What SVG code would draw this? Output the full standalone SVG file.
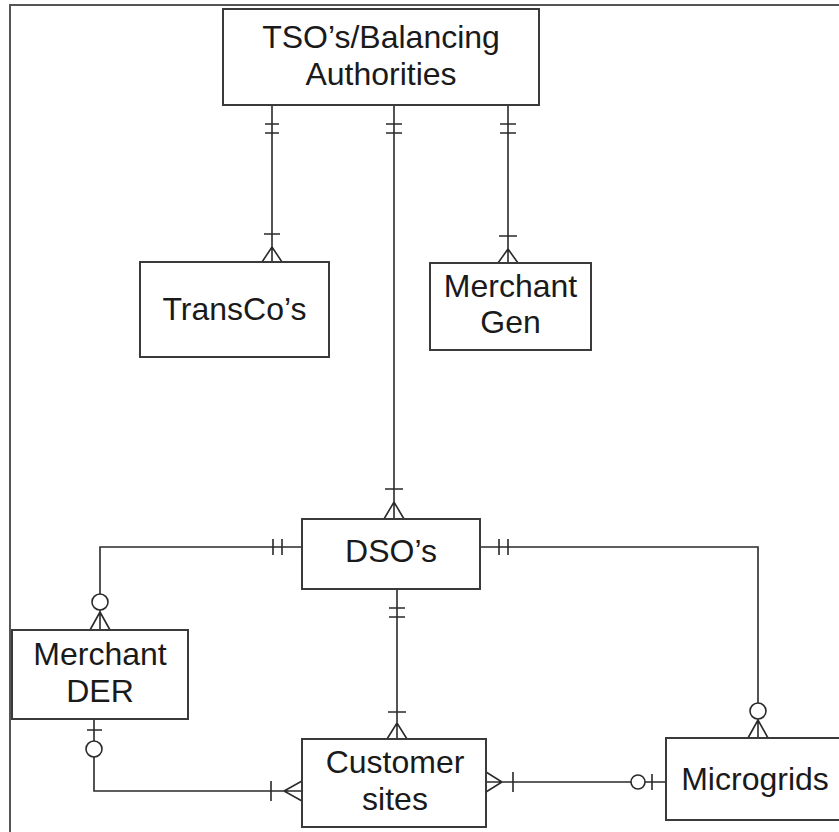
<svg xmlns="http://www.w3.org/2000/svg" width="839" height="832" viewBox="0 0 839 832">
<style>
.box{fill:#fff;stroke:#3a3a3a;stroke-width:2}
.lbl{font-family:"Liberation Sans",Arial,sans-serif;font-size:32px;fill:#1a1a1a;text-anchor:middle}
.ln{fill:none;stroke:#2a2a2a;stroke-width:1.6}
.circ{fill:#fff;stroke:#2a2a2a;stroke-width:1.6}
.frame{fill:none;stroke:#555;stroke-width:2}
</style>
<rect width="839" height="832" fill="#fff"/>
<path class="frame" d="M10 832 V5 H839"/>
<g id="connectors">
  <!-- TSO - TransCo -->
  <path class="ln" d="M272 105 V262 M265 124 H279 M265 133 H279 M264 234 H280 M262 262 L272 247 L282 262"/>
  <!-- TSO - DSO -->
  <path class="ln" d="M394 105 V519 M386 124 H402 M386 133 H402 M385 489 H403 M384 519 L394 502 L404 519"/>
  <!-- TSO - Merchant Gen -->
  <path class="ln" d="M508 105 V263 M500 124 H516 M500 133 H516 M499 236 H517 M498 263 L508 249 L518 263"/>
  <!-- DSO - Merchant DER -->
  <path class="ln" d="M302 547 H100 V630 M273 539 V555 M282 539 V555 M90 630 L100 612 L110 630"/>
  <circle class="circ" cx="100" cy="602" r="8"/>
  <!-- DSO - Microgrids -->
  <path class="ln" d="M480 547 H758 V738 M499 539 V555 M508 539 V555 M748 738 L758 720 L768 738"/>
  <circle class="circ" cx="758" cy="711" r="8"/>
  <!-- DSO - Customer sites -->
  <path class="ln" d="M397 589 V739 M389 608 H405 M389 617 H405 M388 712 H406 M387 739 L397 723 L407 739"/>
  <!-- Merchant DER - Customer sites -->
  <path class="ln" d="M94 719 V791 H302 M87 730 H102 M271 781 V801 M302 781 L284 791 L302 801"/>
  <circle class="circ" cx="94" cy="749" r="8"/>
  <!-- Customer sites - Microgrids -->
  <path class="ln" d="M486 782 H666 M486 772 L502 782 L486 792 M513 772 V792 M652 774 V790"/>
  <circle class="circ" cx="638" cy="782" r="7"/>
</g>
<g id="tso">
  <rect class="box" x="223" y="9" width="316" height="96"/>
  <text class="lbl" x="381" y="48">TSO’s/Balancing</text>
  <text class="lbl" x="381" y="85">Authorities</text>
</g>
<g id="transco">
  <rect class="box" x="140" y="262" width="189" height="95"/>
  <text class="lbl" x="234.5" y="320">TransCo’s</text>
</g>
<g id="merchantgen">
  <rect class="box" x="430" y="263" width="161" height="87"/>
  <text class="lbl" x="510.5" y="297">Merchant</text>
  <text class="lbl" x="510.5" y="333">Gen</text>
</g>
<g id="dso">
  <rect class="box" x="302" y="519" width="178" height="70"/>
  <text class="lbl" x="391" y="562">DSO’s</text>
</g>
<g id="merchantder">
  <rect class="box" x="12" y="630" width="176" height="89"/>
  <text class="lbl" x="100" y="665">Merchant</text>
  <text class="lbl" x="100" y="702">DER</text>
</g>
<g id="customersites">
  <rect class="box" x="302" y="739" width="184" height="88"/>
  <text class="lbl" x="395" y="773">Customer</text>
  <text class="lbl" x="395" y="810">sites</text>
</g>
<g id="microgrids">
  <rect class="box" x="666" y="738" width="180" height="82"/>
  <text class="lbl" x="755" y="790">Microgrids</text>
</g>
</svg>
